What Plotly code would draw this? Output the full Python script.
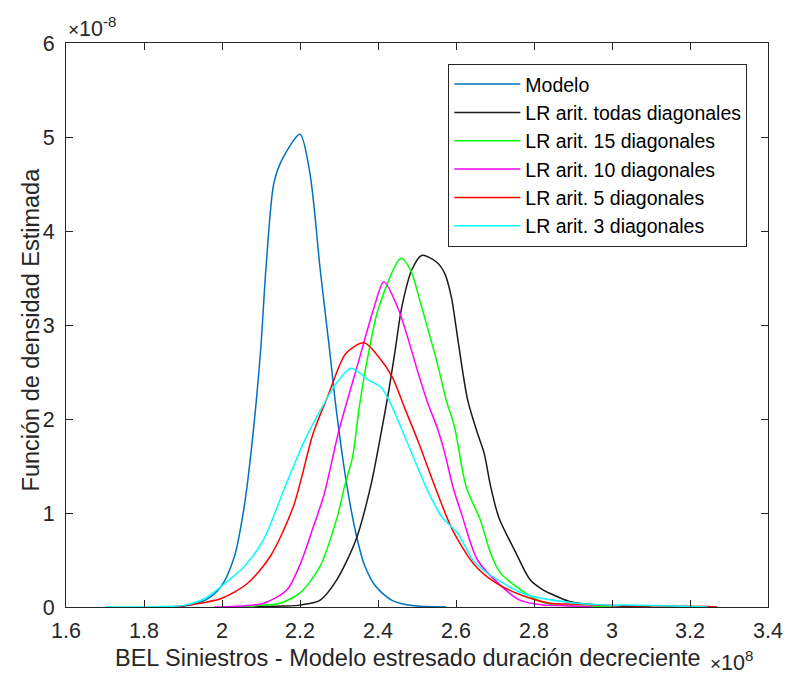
import plotly.graph_objects as go

# Values in units of 1e8 (x) and 1e-8 (y)
modelo_x = [1.85, 1.897, 1.956, 1.998, 2.032, 2.057, 2.078, 2.099, 2.113, 2.133, 2.154, 2.2, 2.224, 2.237, 2.251, 2.276, 2.29, 2.318, 2.343, 2.365, 2.394, 2.436, 2.487, 2.575]
modelo_y = [0.0, 0.005, 0.07, 0.22, 0.54, 1.07, 1.78, 2.73, 3.62, 4.51, 4.76, 5.03, 4.65, 4.22, 3.62, 2.73, 2.2, 1.35, 0.79, 0.45, 0.22, 0.07, 0.015, 0.0]

todas_x = [2.08, 2.154, 2.2, 2.251, 2.293, 2.343, 2.381, 2.411, 2.428, 2.444, 2.461, 2.487, 2.512, 2.55, 2.571, 2.588, 2.605, 2.63, 2.655, 2.672, 2.689, 2.71, 2.752, 2.79, 2.824, 2.849, 2.891, 2.967, 3.1]
todas_y = [0.0, 0.01, 0.02, 0.07, 0.28, 0.71, 1.28, 1.92, 2.31, 2.73, 3.19, 3.59, 3.74, 3.67, 3.55, 3.30, 2.84, 2.20, 1.85, 1.64, 1.28, 0.95, 0.59, 0.29, 0.18, 0.13, 0.06, 0.02, 0.0]

d15_x = [2.036, 2.107, 2.149, 2.2, 2.251, 2.297, 2.314, 2.335, 2.352, 2.377, 2.402, 2.459, 2.483, 2.512, 2.554, 2.575, 2.596, 2.626, 2.662, 2.689, 2.714, 2.76, 2.8, 2.841, 2.908, 3.0]
d15_y = [0.0, 0.02, 0.04, 0.15, 0.43, 0.98, 1.28, 1.6, 2.13, 2.73, 3.19, 3.71, 3.59, 3.19, 2.56, 2.20, 1.92, 1.28, 0.93, 0.57, 0.36, 0.2, 0.09, 0.03, 0.01, 0.0]

d10_x = [1.98, 2.023, 2.107, 2.166, 2.2, 2.234, 2.262, 2.3, 2.35, 2.39, 2.415, 2.453, 2.503, 2.525, 2.554, 2.571, 2.592, 2.615, 2.655, 2.714, 2.765, 2.824, 2.866, 2.95]
d10_y = [0.0, 0.005, 0.04, 0.18, 0.45, 0.85, 1.2, 1.88, 2.61, 3.19, 3.46, 3.16, 2.49, 2.2, 1.88, 1.64, 1.28, 0.98, 0.5, 0.23, 0.07, 0.02, 0.015, 0.0]

d5_x = [1.87, 1.914, 1.998, 2.065, 2.124, 2.183, 2.234, 2.272, 2.318, 2.364, 2.402, 2.436, 2.47, 2.503, 2.546, 2.579, 2.596, 2.647, 2.697, 2.765, 2.841, 2.908, 3.0, 3.245, 3.27]
d5_y = [0.0, 0.02, 0.09, 0.25, 0.54, 1.07, 1.85, 2.25, 2.70, 2.81, 2.66, 2.45, 2.1, 1.76, 1.28, 0.93, 0.78, 0.45, 0.27, 0.13, 0.04, 0.03, 0.015, 0.005, 0.0]

d3_x = [1.70, 1.85, 1.905, 1.956, 1.998, 2.057, 2.107, 2.158, 2.213, 2.26, 2.293, 2.331, 2.377, 2.407, 2.428, 2.47, 2.527, 2.563, 2.579, 2.605, 2.647, 2.706, 2.782, 2.887, 2.984, 3.034, 3.228, 3.245]
d3_y = [0.0, 0.005, 0.02, 0.09, 0.22, 0.43, 0.72, 1.24, 1.78, 2.15, 2.38, 2.54, 2.41, 2.34, 2.2, 1.8, 1.24, 0.96, 0.89, 0.78, 0.48, 0.29, 0.13, 0.05, 0.02, 0.02, 0.003, 0.0]

series_names = ["Modelo", "LR arit. todas diagonales", "LR arit. 15 diagonales",
                "LR arit. 10 diagonales", "LR arit. 5 diagonales", "LR arit. 3 diagonales"]
series_colors = ["#0072BD", "#1a1a1a", "#00FF00", "#FF00FF", "#FF0000", "#00FFFF"]

x_tickvals = [1.6, 1.8, 2.0, 2.2, 2.4, 2.6, 2.8, 3.0, 3.2, 3.4]
x_ticktext = ["1.6", "1.8", "2", "2.2", "2.4", "2.6", "2.8", "3", "3.2", "3.4"]
y_tickvals = [0, 1, 2, 3, 4, 5, 6]

data = [(modelo_x, modelo_y), (todas_x, todas_y), (d15_x, d15_y),
        (d10_x, d10_y), (d5_x, d5_y), (d3_x, d3_y)]

FONT = "Liberation Sans, Arial, Helvetica, sans-serif"
AX = "#262626"

fig = go.Figure()
for (xs, ys), name, col in zip(data, series_names, series_colors):
    fig.add_trace(go.Scatter(x=xs, y=ys, mode="lines", name=name,
                             line=dict(color=col, width=1.5, shape="spline", smoothing=0.8)))

axis_common = dict(showline=True, linecolor=AX, linewidth=1, mirror="ticks",
                   ticks="inside", ticklen=7, tickcolor=AX, tickwidth=1,
                   showgrid=False, zeroline=False,
                   tickfont=dict(family=FONT, size=21.5, color=AX))

fig.update_layout(
    width=795, height=676,
    margin=dict(l=66, r=17, t=43, b=69),
    paper_bgcolor="white", plot_bgcolor="white",
    showlegend=True,
    legend=dict(x=0.9705, y=0.963, xanchor="right", yanchor="top",
                bgcolor="white", bordercolor=AX, borderwidth=1,
                font=dict(family=FONT, size=19.5, color="black"),
                itemwidth=66, tracegroupgap=0),
    xaxis=dict(range=[1.6, 3.4], tickvals=x_tickvals, ticktext=x_ticktext,
               ticklabelstandoff=4, **axis_common),
    yaxis=dict(range=[0, 6], tickvals=y_tickvals, ticklabelstandoff=6, **axis_common),
    annotations=[
        dict(text="BEL Siniestros - Modelo estresado duración decreciente",
             xref="paper", yref="paper", x=0.487, y=-0.0904, xanchor="center", yanchor="middle",
             showarrow=False, font=dict(family=FONT, size=23.5, color=AX)),
        dict(text="Función de densidad Estimada", textangle=-90,
             xref="paper", yref="paper", x=-0.0506, y=0.493, xanchor="center", yanchor="middle",
             showarrow=False, font=dict(family=FONT, size=23.5, color=AX)),
        dict(text="<span style='font-size:19px'>×</span>10<sup>-8</sup>",
             xref="paper", yref="paper", x=0.0, y=1.0, xanchor="left", yanchor="bottom",
             showarrow=False, font=dict(family=FONT, size=21.5, color=AX)),
        dict(text="<span style='font-size:19px'>×</span>10<sup>8</sup>",
             xref="paper", yref="paper", x=0.981, y=-0.068, xanchor="right", yanchor="top",
             showarrow=False, font=dict(family=FONT, size=21.5, color=AX)),
    ],
)

fig.write_html("out.html", config={"displayModeBar": False},
               post_script="document.body.style.margin='0';document.body.style.padding='0';document.body.style.overflow='hidden';")
